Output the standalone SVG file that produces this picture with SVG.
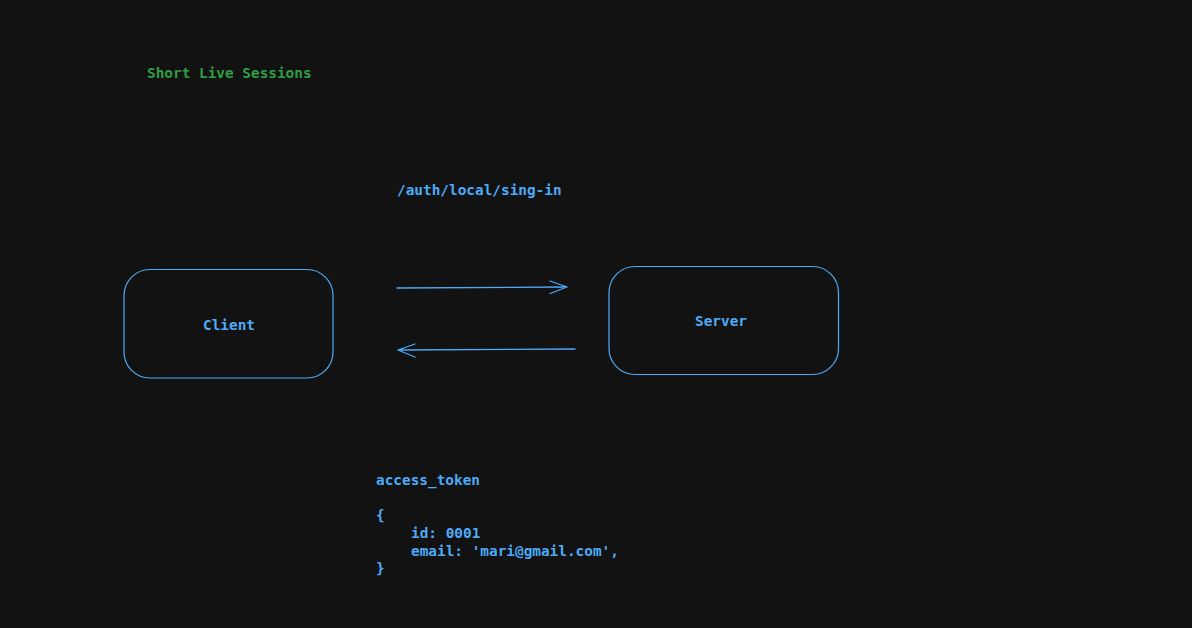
<svg xmlns="http://www.w3.org/2000/svg" width="1192" height="628" viewBox="0 0 1192 628">
<style>
.t{font-family:"DejaVu Sans Mono","Liberation Mono",monospace;font-size:14.4px;font-weight:bold;fill:#4dabf7}
.g{fill:#2f9e44}
.box{fill:none;stroke:#4dabf7;stroke-width:1.2}
.ln{fill:none;stroke:#4dabf7;stroke-width:1.3;stroke-linecap:round;stroke-linejoin:round}
</style>
<rect width="1192" height="628" fill="#121212"/>
<text class="t g" x="147" y="78">Short Live Sessions</text>
<text class="t" x="397" y="194.5">/auth/local/sing-in</text>
<g id="client">
<rect class="box" x="124" y="269.5" width="209" height="108.5" rx="26"/>
<text class="t" x="229" y="329.5" text-anchor="middle">Client</text>
</g>
<g id="server">
<rect class="box" x="609" y="266.5" width="229.5" height="108" rx="26"/>
<text class="t" x="721" y="325.5" text-anchor="middle">Server</text>
</g>
<g id="connectors">
<path class="ln" d="M397 288 L567 287 M550 281 L567 287 L550 293.5"/>
<path class="ln" d="M575 349 L398 350 M415 344 L398 350 L415 357"/>
</g>
<g id="token">
<text class="t" x="376" y="485">access_token</text>
<text class="t" x="376" y="520">{</text>
<text class="t" x="411" y="538">id: 0001</text>
<text class="t" x="411" y="555.5">email: 'mari@gmail.com',</text>
<text class="t" x="376" y="573">}</text>
</g>
</svg>
